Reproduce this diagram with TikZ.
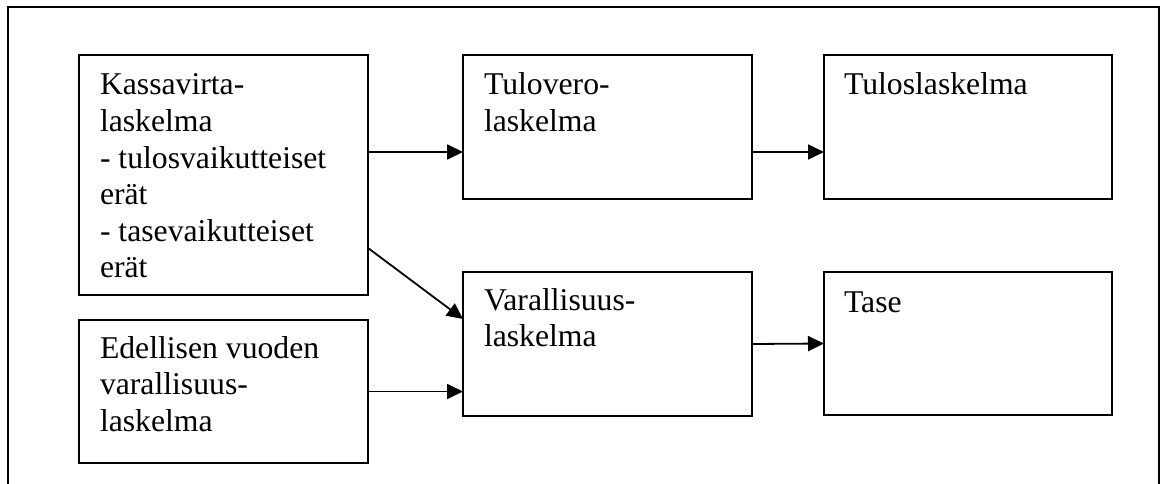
\documentclass[tikz,border=0pt]{standalone}
\usepackage{fontspec}
\setmainfont{Liberation Serif}
\usetikzlibrary{arrows.meta,calc}
\newcommand{\boxtext}[1]{\parbox[t]{260pt}{\raggedright #1}}
\begin{document}
\begin{tikzpicture}[x=1pt,y=-1pt,
  frame/.style={draw=black,line width=1.8pt},
  box/.style={draw=black,line width=1.8pt,inner sep=0pt,outer sep=0pt,rectangle},
  lbl/.style={anchor=base west,inner sep=0pt,outer sep=0pt,font=\fontsize{31.7}{36.6}\selectfont},
  arr/.style={draw=black,line width=1.8pt,-{Triangle[length=16pt,width=15pt]}}]
\useasboundingbox (0,0) rectangle (1162,484);
\draw[frame] (8,490) -- (8,7) -- (1159,7) -- (1159,490);
\node[box,minimum width=289pt,minimum height=240pt] (kassa) at (223.5,175) {};
\node[box,minimum width=289pt,minimum height=143pt] (edel) at (223.5,391.5) {};
\node[box,minimum width=289pt,minimum height=144pt] (tulo) at (607.5,127) {};
\node[box,minimum width=288pt,minimum height=144pt] (tulos) at (968,127) {};
\node[box,minimum width=289pt,minimum height=144pt] (varall) at (607.5,344) {};
\node[box,minimum width=288pt,minimum height=143pt] (tase) at (968,343.5) {};
\node[lbl] (kassaT) at ($(kassa.north west)+(21,40)$) {\boxtext{Kassavirta-\\laskelma\\- tulosvaikutteiset\\erät\\- tasevaikutteiset\\erät}};
\node[lbl] (edelT) at ($(edel.north west)+(21,38)$) {\boxtext{Edellisen vuoden\\varallisuus-\\laskelma}};
\node[lbl] (tuloT) at ($(tulo.north west)+(21,40)$) {\boxtext{Tulovero-\\laskelma}};
\node[lbl] (tulosT) at ($(tulos.north west)+(20,40)$) {\boxtext{Tuloslaskelma}};
\node[lbl] (varallT) at ($(varall.north west)+(21,38)$) {\boxtext{Varallisuus-\\laskelma}};
\node[lbl] (taseT) at ($(tase.north west)+(20,40)$) {\boxtext{Tase}};
\draw[arr] ($(kassa.north east)+(0,97)$) -- ($(tulo.north west)+(0,97)$);
\draw[arr] ($(tulo.north east)+(0,97)$) -- ($(tulos.north west)+(0,97)$);
\draw[arr] ($(kassa.north east)+(0,193)$) -- ($(varall.north west)+(0,47)$);
\draw[arr] (edel.east) -- (edel.east -| varall.west);
\draw[arr] (varall.east) -- (tase.west);
\end{tikzpicture}
\end{document}
